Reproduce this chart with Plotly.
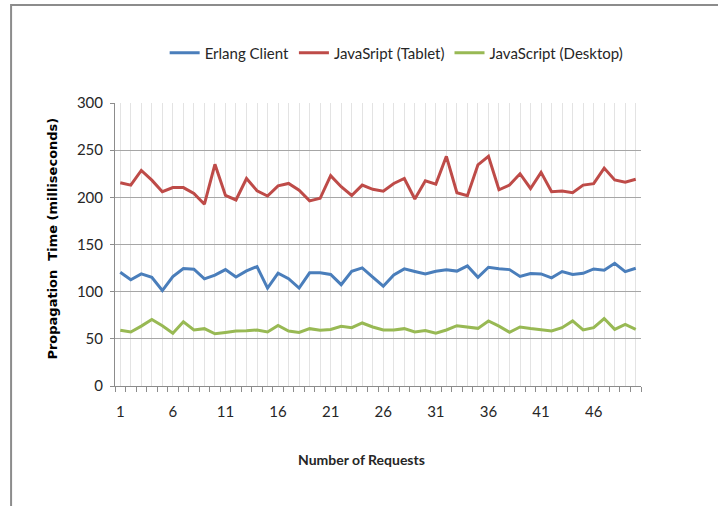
import plotly.graph_objects as go

requests = list(range(1, 51))
tick_labels = [str(i) if (i - 1) % 5 == 0 else "" for i in requests]

erlang_client = [120.6, 112.6, 118.8, 115.2, 101.2, 116, 124.6, 123.8, 113.6, 117.5,
                 123.4, 115.6, 122, 126.6, 103.8, 119.6, 113.8, 103.8, 120, 120,
                 118.2, 107.4, 121.5, 125.2, 115.4, 105.8, 117.8, 124.2, 121.4, 118.8,
                 121.6, 123.2, 121.8, 127.3, 115.2, 125.9, 124.3, 123.4, 116.1, 119.3,
                 118.8, 114.6, 121.3, 118.2, 119.5, 124.1, 122.7, 130.1, 121.3, 124.8]
js_tablet = [215.5, 212.9, 228.5, 218.2, 205.9, 210.3, 210.3, 204.2, 192.7, 235,
             202, 197.2, 220, 207, 201.4, 212.2, 214.7, 207.5, 196.2, 199,
             223, 211.2, 202, 213, 208.5, 206.6, 214.7, 220, 198.3, 217.5,
             214, 243.5, 204.9, 201.8, 234.5, 243.5, 208, 213, 225, 209.4,
             226.5, 206, 206.6, 205, 213, 214.5, 231, 218.5, 216, 219.2]
js_desktop = [59.2, 57.3, 63.5, 70.5, 63.8, 56, 68, 59.4, 60.8, 55.4,
              56.8, 58.3, 58.7, 59.4, 57.3, 64.2, 58.2, 56.8, 60.8, 59,
              60, 63.2, 61.8, 66.8, 62.6, 59.4, 59.4, 60.8, 57.3, 58.7,
              56, 59.4, 63.9, 62.6, 61.1, 69, 63.5, 57, 62.6, 61,
              59.4, 58.3, 61.8, 69, 59.4, 61.8, 71.5, 60, 65.3, 60]

NARROW = "Lato, Liberation Sans, Arial, sans-serif"

fig = go.Figure()
for name, vals, col in [("Erlang Client", erlang_client, "#4a7ebb"),
                        ("JavaSript (Tablet)", js_tablet, "#be4b48"),
                        ("JavaScript (Desktop)", js_desktop, "#98b954")]:
    fig.add_trace(go.Scatter(x=requests, y=vals, mode="lines", name=name,
                             line=dict(color=col, width=3)))

W, H = 718, 506
L, R, T, B = 115.4, 641.3, 103, 386
pw, ph = R - L, B - T

def px(x):
    return (x - L) / pw

def py(y):
    return (B - y) / ph

fig.update_layout(
    width=W, height=H,
    margin=dict(l=L, r=W - R, t=T, b=H - B),
    paper_bgcolor="white", plot_bgcolor="white",
    font=dict(family=NARROW, size=14, color="#262626"),
    showlegend=True,
    legend=dict(orientation="h", x=px(397), y=py(53), xanchor="center", yanchor="middle",
                font=dict(family=NARROW, size=15, color="#262626"),
                itemwidth=30, tracegroupgap=0),
    xaxis=dict(range=[0.5, 50.5], tickmode="array", tickvals=requests, ticktext=tick_labels,
               showgrid=True, gridcolor="#e3e3e3", gridwidth=1,
               showline=True, linecolor="#8c8c8c", linewidth=1,
               ticks="", ticklabelstandoff=12, zeroline=False,
               tickfont=dict(family=NARROW, size=15, color="#262626"),
               minor=dict(tickmode="array", tickvals=[i + 0.5 for i in range(0, 51)],
                          ticks="outside", ticklen=5, tickcolor="#8c8c8c", showgrid=False)),
    yaxis=dict(range=[0, 300], dtick=50, showgrid=True, gridcolor="#a6a6a6", gridwidth=1,
               showline=True, linecolor="#8c8c8c", linewidth=1, zeroline=False,
               ticks="outside", ticklen=4, tickcolor="#8c8c8c", ticklabelstandoff=4,
               tickfont=dict(family=NARROW, size=15, color="#262626")),
    shapes=[dict(type="rect", xref="paper", yref="paper",
                 x0=px(11.5), x1=px(740), y0=py(530), y1=py(5),
                 line=dict(color="#8c8c8c", width=2), fillcolor="rgba(0,0,0,0)", layer="below")],
    annotations=[
        dict(text="<b>Propagation  Time (milliseconds)</b>", textangle=-90,
             xref="paper", yref="paper", x=px(52), y=py(239), showarrow=False,
             xanchor="center", yanchor="middle",
             font=dict(family="DejaVu Sans, Verdana", size=13, color="#000000")),
        dict(text="<b>Number of Requests</b>",
             xref="paper", yref="paper", x=px(362), y=py(459), showarrow=False,
             xanchor="center", yanchor="middle",
             font=dict(family=NARROW, size=14, color="#262626")),
    ],
)

fig.write_html("out.html")
